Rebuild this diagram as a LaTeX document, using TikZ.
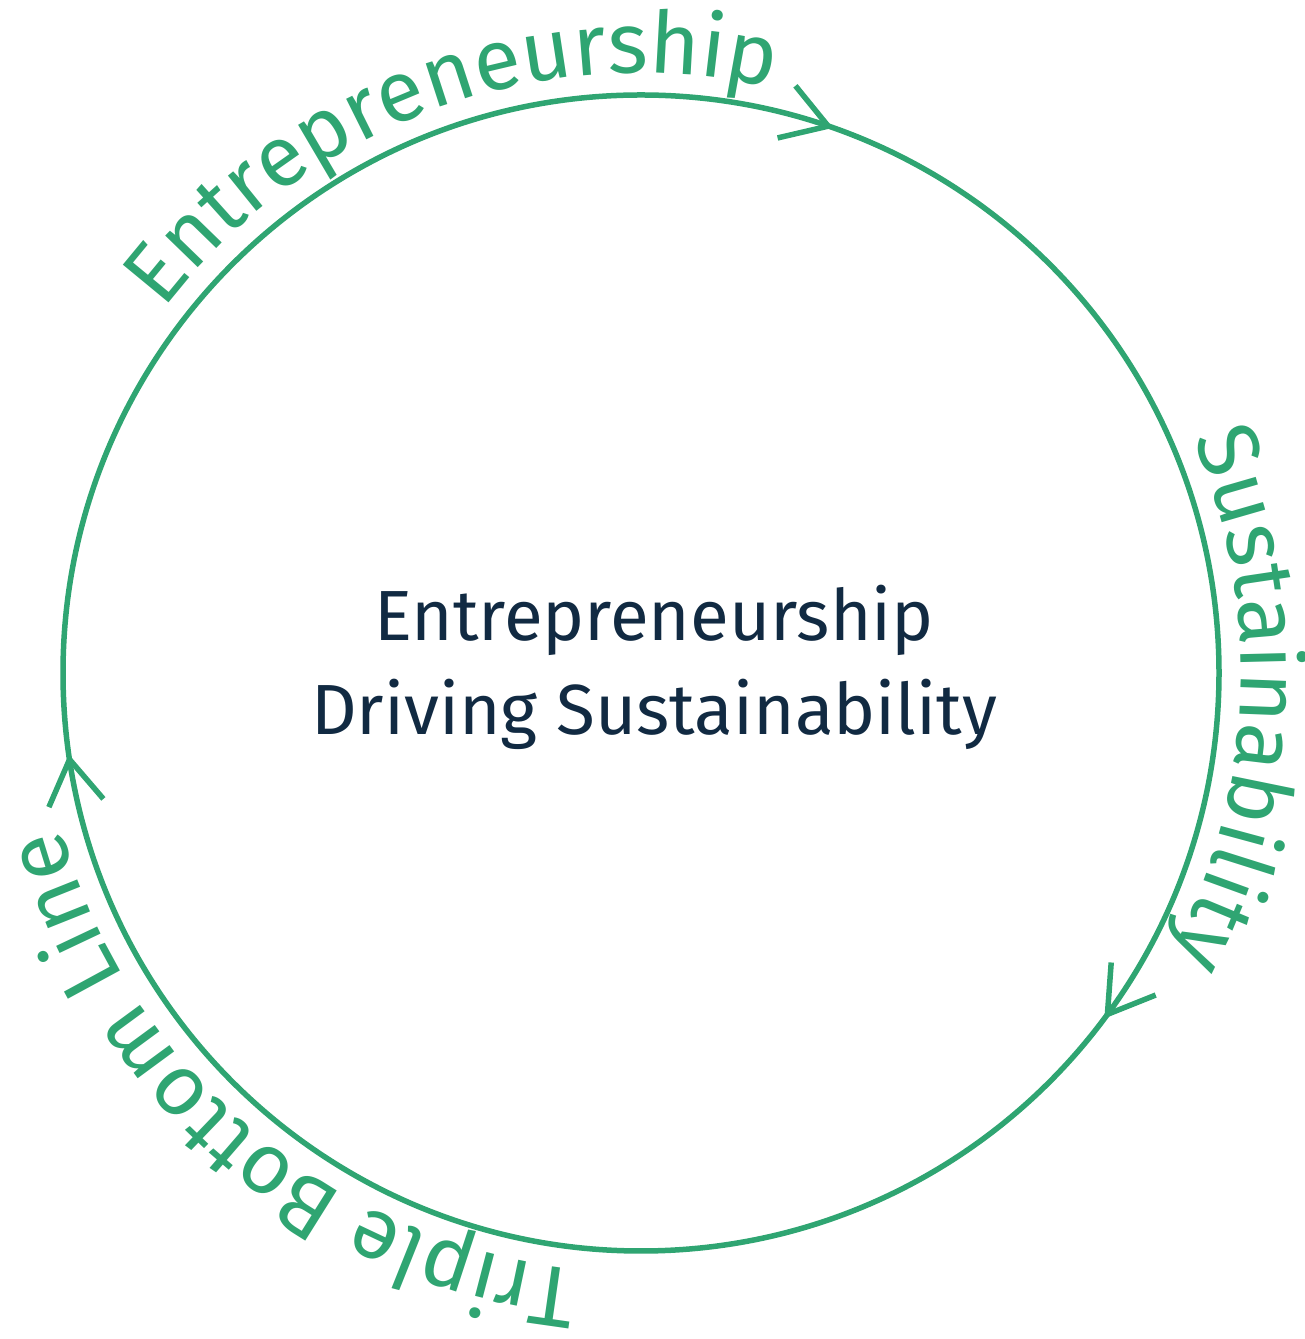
\documentclass[tikz,border=0pt]{standalone}
\usepackage{fontspec}
\setmainfont{Fira Sans}
\usetikzlibrary{decorations.text,calc}
\definecolor{ringgreen}{RGB}{47,165,114}
\definecolor{navy}{RGB}{17,42,66}
\begin{document}
\begin{tikzpicture}[x=1pt,y=1pt,
  ring/.style={draw=ringgreen, line width=5.5pt},
  chevron/.style={draw=ringgreen, line width=5.5pt, line join=miter, line cap=butt},
  arctext/.style={decorate, decoration={text along path, text align=center, text color=ringgreen, text={|\fontsize{86}{86}\selectfont|#1}}},
  centertext/.style={text=navy, font=\fontsize{71}{71}\selectfont, inner sep=0pt, anchor=base}]
\useasboundingbox (0,0) rectangle (1305,1339);
\coordinate (c) at (641,666);
\draw[ring] (c) circle[radius=578];
% arrowheads
\coordinate (tipA) at ($(c)+(71.1:578)$);
\coordinate (armA1) at ($(tipA)+(193.1:52)$);
\coordinate (armA2) at ($(tipA)+(129.1:52)$);
\draw[chevron] (armA1) -- (tipA) -- (armA2);
\coordinate (tipB) at ($(c)+(-36.2:578)$);
\coordinate (armB1) at ($(tipB)+(85.8:52)$);
\coordinate (armB2) at ($(tipB)+(21.8:52)$);
\draw[chevron] (armB1) -- (tipB) -- (armB2);
\coordinate (tipC) at ($(c)+(188.6:578)$);
\coordinate (armC1) at ($(tipC)+(246.6:52)$);
\coordinate (armC2) at ($(tipC)+(310.6:52)$);
\draw[chevron] (armC1) -- (tipC) -- (armC2);
% curved labels
\path[arctext=Entrepreneurship] ($(c)+(170:600)$) arc[start angle=170, end angle=50, radius=600];
\path[arctext=Sustainability] ($(c)+(57.5:600)$) arc[start angle=57.5, end angle=-62.5, radius=600];
\path[arctext=Triple Bottom Line] ($(c)+(-70.5:600)$) arc[start angle=-70.5, end angle=-190.5, radius=600];
% centre text
\node[centertext] (line1) at (654,698) {Entrepreneurship};
\node[centertext] (line2) at (654,604) {Driving Sustainability};
\end{tikzpicture}
\end{document}
